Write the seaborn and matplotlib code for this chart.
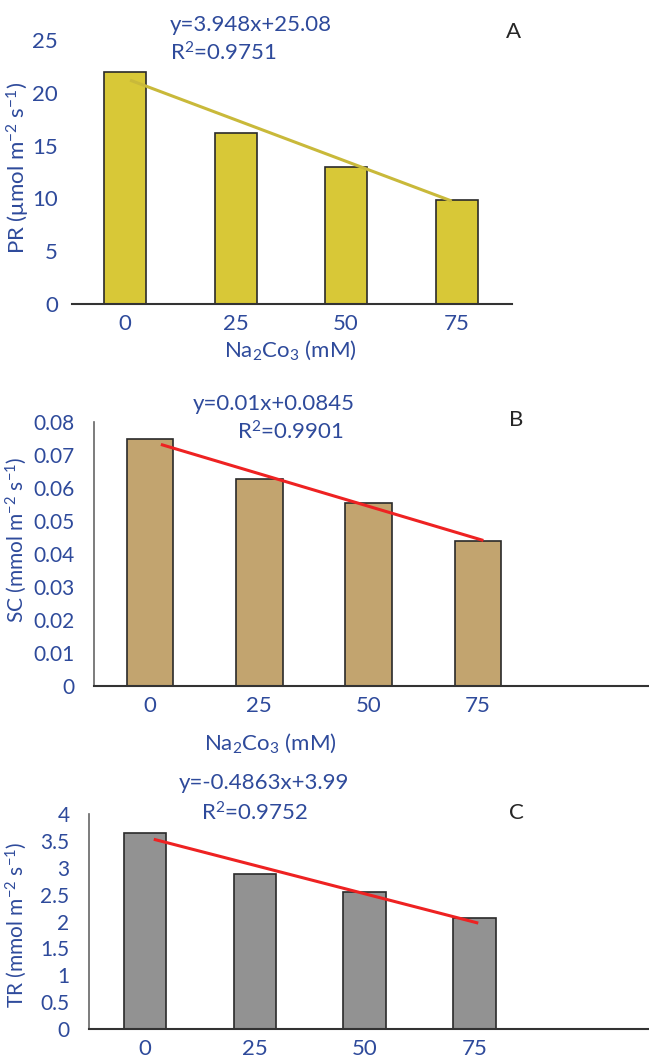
import numpy as np
import pandas as pd
import seaborn as sns
from matplotlib import pyplot as plt

sns.set_style('white')
plt.rcParams['font.family'] = ['Lato', 'DejaVu Sans']
plt.rcParams['mathtext.fontset'] = 'custom'
plt.rcParams['mathtext.rm'] = 'Lato'
plt.rcParams['mathtext.it'] = 'Lato:italic'

# data
conc = ['0', '25', '50', '75']
pr = [22.0, 16.2, 13.0, 9.85]
sc = [0.0750, 0.0627, 0.0556, 0.0440]
tr = [3.65, 2.88, 2.55, 2.06]

# trend line end values (first and last treatment)
pr_trend = [21.2, 9.75]
sc_trend = [0.0732, 0.0441]
tr_trend = [3.53, 1.97]

blue = '#2E4A9B'
W, H = 649, 1059
FS = 16

fig = plt.figure(figsize=(W / 100, H / 100), dpi=100)


def box(l, r, b, t):
    return [l / W, (H - b) / H, (r - l) / W, (b - t) / H]


def panel(rect, vals, trend, x_off, color, lcolor, width, xlim, yticks, show_left, pad, ysize):
    ax = fig.add_axes(rect)
    df = pd.DataFrame({'conc': conc, 'val': vals})
    sns.barplot(data=df, x='conc', y='val', color=color, width=width,
                edgecolor='#2a2a2a', linewidth=1.2, saturation=1, ax=ax)
    ax.plot([0 + x_off[0], 3 + x_off[1]], trend, color=lcolor, lw=2.2,
            solid_capstyle='butt')
    ax.set_xlim(*xlim)
    ax.set_ylim(yticks[0], yticks[-1])
    ax.set_yticks(yticks)
    ax.set_yticklabels([f'{v:g}' for v in yticks])
    ax.set_xlabel('')
    ax.set_ylabel('')
    ax.tick_params(axis='both', length=0, labelsize=FS, labelcolor=blue)
    ax.tick_params(axis='y', pad=pad, labelsize=ysize)
    ax.tick_params(axis='x', pad=7)
    for s in ['top', 'right']:
        ax.spines[s].set_visible(False)
    ax.spines['bottom'].set_color('#333333')
    ax.spines['bottom'].set_linewidth(1.5)
    ax.spines['left'].set_visible(show_left)
    ax.spines['left'].set_color('#666666')
    ax.spines['left'].set_linewidth(1.2)
    return ax


# A
panel(box(72, 512, 304, 40), pr, pr_trend, (0.045, -0.045), '#D8C837', '#C9B93A',
      0.38, (-0.48, 3.5), [0, 5, 10, 15, 20, 25], False, 10, FS)
# B
panel(box(94, 649, 686, 422), sc, sc_trend, (0.1, 0.05), '#C2A46F', '#EE2222',
      0.425, (-0.512, 4.565), [0, 0.01, 0.02, 0.03, 0.04, 0.05, 0.06, 0.07, 0.08],
      True, 14, 15)
# C
panel(box(89, 649, 1029, 814), tr, tr_trend, (0.08, 0.035), '#929292', '#EE2222',
      0.385, (-0.51, 4.59), [0, 0.5, 1, 1.5, 2, 2.5, 3, 3.5, 4], True, 14, 15)


def ftext(x, y, s, **kw):
    kw.setdefault('fontsize', FS)
    fig.text(x / W, 1 - y / H, s, **kw)


# equations
ftext(170, 25, 'y=3.948x+25.08', color=blue, va='center')
ftext(170, 53, 'R$^2$=0.9751', color=blue, va='center')
ftext(274, 404, 'y=0.01x+0.0845', color=blue, va='center', ha='center')
ftext(290, 432, 'R$^2$=0.9901', color=blue, va='center', ha='center')
ftext(264, 783, 'y=-0.4863x+3.99', color=blue, va='center', ha='center')
ftext(255, 813, 'R$^2$=0.9752', color=blue, va='center', ha='center')

# panel letters
ftext(514, 32, 'A', va='center', ha='center')
ftext(516, 420, 'B', va='center', ha='center')
ftext(516, 813, 'C', va='center', ha='center')

# axis titles
ftext(18, 168, 'PR (μmol m$^{-2}$ s$^{-1}$)', color=blue, rotation=90,
      va='center', ha='center')
ftext(16, 540, 'SC (mmol m$^{-2}$ s$^{-1}$)', color=blue, rotation=90,
      va='center', ha='center', fontsize=15)
ftext(16, 925, 'TR (mmol m$^{-2}$ s$^{-1}$)', color=blue, rotation=90,
      va='center', ha='center', fontsize=15)
ftext(290, 350, 'Na$_2$Co$_3$ (mM)', color=blue, va='center', ha='center')
ftext(270, 743, 'Na$_2$Co$_3$ (mM)', color=blue, va='center', ha='center')

fig.savefig('out.png', dpi=100)
